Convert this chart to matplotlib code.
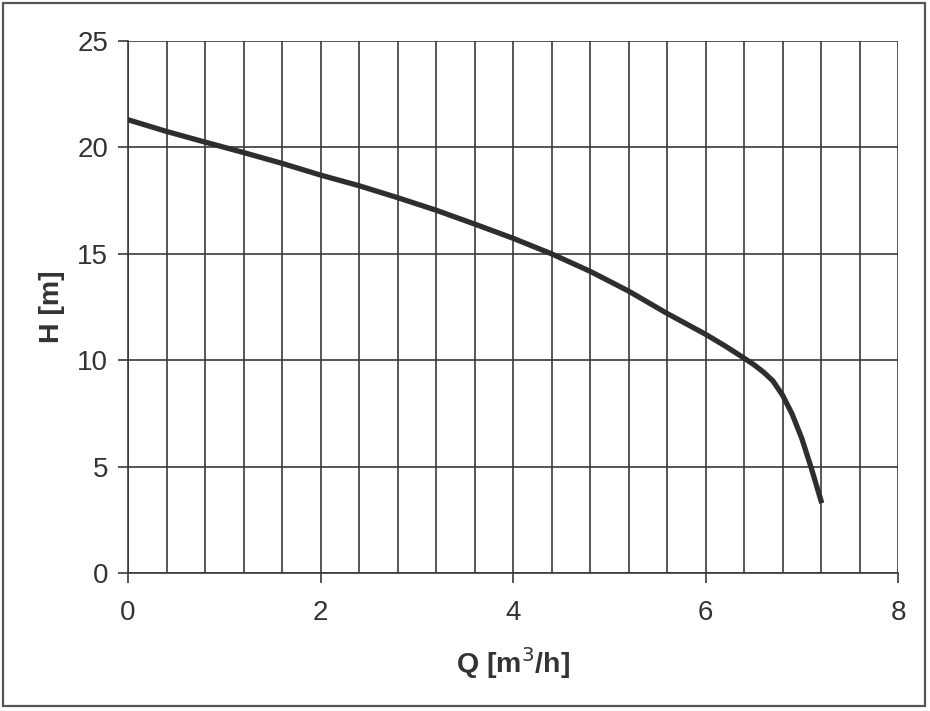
import matplotlib
matplotlib.use("Agg")
import matplotlib.pyplot as plt
from matplotlib.patches import Rectangle
import numpy as np

# Data (pump curve)
Q = [0.0, 0.4, 0.8, 1.2, 1.6, 2.0, 2.4, 2.8, 3.2, 3.6, 4.0, 4.4, 4.8, 5.2,
     5.6, 6.0, 6.2, 6.4, 6.5, 6.6, 6.7, 6.8, 6.9, 7.0, 7.1, 7.2]
H = [21.3, 20.75, 20.25, 19.76, 19.25, 18.7, 18.2, 17.64, 17.05, 16.4, 15.73,
     15.0, 14.18, 13.25, 12.2, 11.22, 10.68, 10.1, 9.8, 9.45, 9.03, 8.36, 7.47,
     6.33, 4.92, 3.4]
x_major = [0, 2, 4, 6, 8]
y_major = [0, 5, 10, 15, 20, 25]
x_grid_step = 0.4

plt.rcParams['font.family'] = ['Liberation Sans', 'DejaVu Sans']

fig = plt.figure(figsize=(9.30, 7.11), dpi=100)
ax = fig.add_axes([128/930, 1-573/711, (898-128)/930, (573-41)/711])

gc = '#3a3a3a'
ax.plot(Q, H, color='#2e2e2e', lw=3.8, solid_joinstyle='round', zorder=3)

ax.set_xlim(0, 8)
ax.set_ylim(0, 25)
ax.set_xticks(x_major)
ax.set_yticks(y_major)
ax.set_xticks(np.arange(0, 8.0001, x_grid_step), minor=True)
ax.tick_params(axis='both', which='major', direction='out', length=7.2, width=1.2,
               color=gc, labelsize=20, labelcolor='#333333')
ax.tick_params(axis='x', which='major', pad=12)
ax.tick_params(axis='y', which='major', pad=7)
ax.tick_params(axis='x', which='minor', length=0)
ax.grid(True, axis='x', which='both', color=gc, lw=1.2)
ax.grid(True, axis='y', which='major', color=gc, lw=1.2)
ax.set_axisbelow(True)
for s in ['top', 'right']:
    ax.spines[s].set_visible(False)
for s in ['left', 'bottom']:
    ax.spines[s].set_color(gc)
    ax.spines[s].set_linewidth(1.2)

ax.set_xlabel('Q [m$^3$/h]', fontsize=20.5, fontweight='bold', color='#333333', labelpad=14)
ax.set_ylabel('H [m]', fontsize=20.5, fontweight='bold', color='#333333', labelpad=9)

fig.patches.append(Rectangle((3/930, 1-706/711), (925-3)/930, (706-3)/711,
                             transform=fig.transFigure, fill=False,
                             edgecolor='#555555', lw=1.6))

fig.savefig('out.png', dpi=100)
